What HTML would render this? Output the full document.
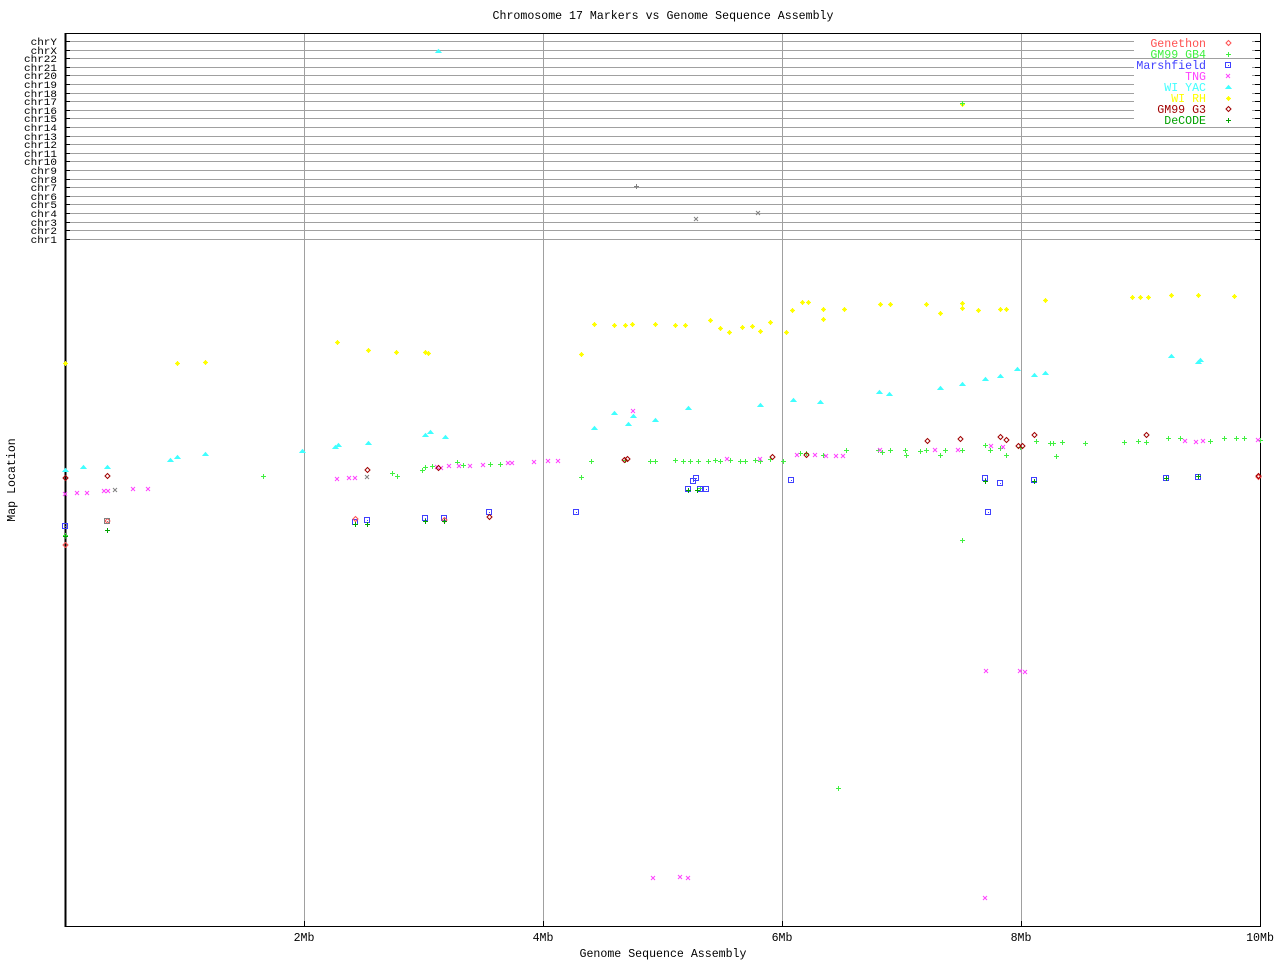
<!DOCTYPE html>
<html><head><meta charset="utf-8"><style>body{margin:0;background:#fff}svg{display:block}text{font-family:"Liberation Mono",monospace;font-size:11.6px}#lab text.c{font-size:10px}</style></head>
<body>
<svg id="s" width="1280" height="960" xmlns="http://www.w3.org/2000/svg">
<rect width="1280" height="960" fill="#fff"/>
<text x="663" y="19" text-anchor="middle">Chromosome 17 Markers vs Genome Sequence Assembly</text>
<text x="663" y="957" text-anchor="middle">Genome Sequence Assembly</text>
<text transform="translate(15,480) rotate(-90)" text-anchor="middle">Map Location</text>
<g id="grid" stroke="#a0a0a0" stroke-width="1"></g>
<g id="lab"></g>
<rect x="65.5" y="33.5" width="1195" height="893" fill="none" stroke="#000" stroke-width="1"/>
<line x1="65.5" y1="33" x2="65.5" y2="927" stroke="#000" stroke-width="2"/>
<g id="pts" stroke-width="1" fill="none"></g>
<g id="leg"></g>
</svg>
<script>
var NS="http://www.w3.org/2000/svg";
function el(p,t,a,txt){var e=document.createElementNS(NS,t);for(var k in a)e.setAttribute(k,a[k]);if(txt)e.textContent=txt;document.getElementById(p).appendChild(e);return e;}
var chrs=["chrY","chrX","chr22","chr21","chr20","chr19","chr18","chr17","chr16","chr15","chr14","chr13","chr12","chr11","chr10","chr9","chr8","chr7","chr6","chr5","chr4","chr3","chr2","chr1"];
chrs.forEach(function(c,i){var y=Math.round(41+i*8.6)+0.5;
el("grid","line",{x1:65,y1:y,x2:1260,y2:y});
el("grid","line",{x1:65,y1:y,x2:70,y2:y,stroke:"#000"});
el("grid","line",{x1:1255,y1:y,x2:1260,y2:y,stroke:"#000"});
el("lab","text",{x:57,y:y+3.5,"text-anchor":"end","class":"c",textLength:c.length*6.6,lengthAdjust:"spacingAndGlyphs"},c);});
[304,543,782,1021].forEach(function(x,i){el("grid","line",{x1:x+.5,y1:33,x2:x+.5,y2:926});
el("grid","line",{x1:x+.5,y1:921,x2:x+.5,y2:926,stroke:"#000"});
el("lab","text",{x:x,y:941,"text-anchor":"middle"},(2*(i+1))+"Mb");});
el("lab","text",{x:1260,y:941,"text-anchor":"middle"},"10Mb");
function mk(type,col,x,y,g){g=g||"pts";
if(type=="plus"){el(g,"path",{d:"M"+(x-2)+" "+(y+.5)+"h5M"+(x+.5)+" "+(y-2)+"v5",stroke:col,fill:"none"});}
else if(type=="x"){el(g,"path",{d:"M"+(x-2)+" "+(y-2)+"l4 4M"+(x+2)+" "+(y-2)+"l-4 4",stroke:col,fill:"none"});}
else if(type=="sq"){el(g,"rect",{x:x-2.5,y:y-2.5,width:5,height:5,stroke:col,fill:"none"});el(g,"rect",{x:x,y:y,width:1,height:1,fill:col,stroke:"none"});}
else if(type=="dia"){el(g,"path",{d:"M"+(x+.5)+" "+(y-2.5)+"l2.5 2.5l-2.5 2.5l-2.5 -2.5z",stroke:col,fill:"none"});}
else if(type=="tri"){el(g,"path",{d:"M"+(x-2)+" "+(y+1.5)+"l2.5 -3l2.5 3z",fill:col,stroke:col});}
else if(type=="ast"){el(g,"path",{d:"M"+(x-2)+" "+(y+.5)+"h5M"+(x+.5)+" "+(y-2)+"v5M"+(x-1)+" "+(y-1)+"l3 3M"+(x+2)+" "+(y-1)+"l-3 3",stroke:col,fill:"none"});}}
function P(s){return s.trim().split(/\s+/).map(function(p){return p.split(",").map(Number);});}
var yel=P("65,363 177,363 205,362 337,342 368,350 396,352 425,352 428,353 581,354 594,324 614,325 625,325 632,324 655,324 675,325 685,325 710,320 720,328 729,332 742,327 752,326 760,331 770,322 786,332 792,310 802,302 808,302 823,309 823,319 844,309 880,304 890,304 926,304 940,313 962,303 962,308 978,310 1000,309 1006,309 1045,300 1132,297 1140,297 1148,297 1171,295 1198,295 1234,296 962,104");
var cy=P("65,470 83,467 107,467 170,460 177,457 205,454 302,451 335,447 338,445 368,443 425,435 430,432 445,437 594,428 614,413 628,424 633,416 655,420 688,408 760,405 793,400 820,402 879,392 889,394 940,388 962,384 985,379 1000,376 1017,369 1034,375 1045,373 1171,356 1198,362 1200,360 438,51");
var gb=P("65,535 263,476 392,473 397,476 422,470 425,467 432,466 457,462 463,465 490,464 500,464 581,477 591,461 625,460 650,461 655,461 675,460 683,461 690,461 698,461 708,461 715,460 720,461 730,460 740,461 745,461 755,460 760,461 770,459 783,461 800,453 806,453 823,455 846,450 878,450 882,452 890,450 905,450 906,455 920,451 926,450 940,455 945,450 962,450 985,445 990,450 1000,448 1006,455 1020,447 1036,441 1050,443 1053,443 1056,456 1062,442 1085,443 1124,442 1138,441 1146,442 1168,438 1180,438 1210,441 1224,438 1236,438 1244,438 1260,440 962,540 838,788 962,103 700,488");
var tng=P("65,494 77,493 87,493 104,491 108,491 133,489 148,489 337,479 349,478 355,478 437,467 441,468 449,466 459,466 470,466 483,465 508,463 512,463 534,462 548,461 558,461 633,411 653,878 680,877 688,878 727,459 760,459 797,455 815,455 826,456 836,456 843,456 880,450 935,450 958,450 985,898 986,671 1020,671 1025,672 991,446 1003,447 1185,441 1196,442 1203,441 1258,440");
var ms=P("65,526 355,522 367,520 425,518 444,518 489,512 576,512 688,489 693,481 696,478 700,489 706,489 791,480 985,478 988,512 1000,483 1034,480 1166,478 1198,477");
var g3=P("65,478 107,476 367,470 438,468 489,517 624,460 627,459 772,457 806,455 927,441 960,439 1000,437 1006,440 1018,446 1022,446 1034,435 1146,435 1258,476");
var dc=P("65,536 107,530 355,524 367,524 425,521 444,521 688,490 697,490 985,481 1034,481 1166,478 1198,476");
var gen=P("65,545 107,521 355,519 1258,477 444,520");
yel.forEach(function(p){mk("ast","#ffff00",p[0],p[1]);});
cy.forEach(function(p){mk("tri","#40ffff",p[0],p[1]);});
gb.forEach(function(p){mk("plus","#40f040",p[0],p[1]);});
tng.forEach(function(p){mk("x","#ff40ff",p[0],p[1]);});
ms.forEach(function(p){mk("sq","#4040ff",p[0],p[1]);});
gen.forEach(function(p){mk("dia","#ff5050",p[0],p[1]);});
g3.forEach(function(p){mk("dia","#a00000",p[0],p[1]);});
dc.forEach(function(p){mk("plus","#00a000",p[0],p[1]);});
[[115,490,"x"],[367,477,"x"],[636,186,"plus"],[696,219,"x"],[758,213,"x"],[107,521,"sq"]].forEach(function(p){mk(p[2],"#808080",p[0],p[1]);});
var L=[["Genethon","#ff5050","dia"],["GM99 GB4","#40f040","plus"],["Marshfield","#4040ff","sq"],["TNG","#ff40ff","x"],["WI YAC","#40ffff","tri"],["WI RH","#ffff00","ast"],["GM99 G3","#a00000","dia"],["DeCODE","#00a000","plus"]];
L.forEach(function(l,i){var y=43+i*11;el("leg","rect",{x:1134,y:y-6,width:118,height:10,fill:"#fff"});
el("leg","text",{x:1206,y:y+4,"text-anchor":"end",fill:l[1]},l[0]);mk(l[2],l[1],1228,y,"leg");});
</script>
</body></html>
